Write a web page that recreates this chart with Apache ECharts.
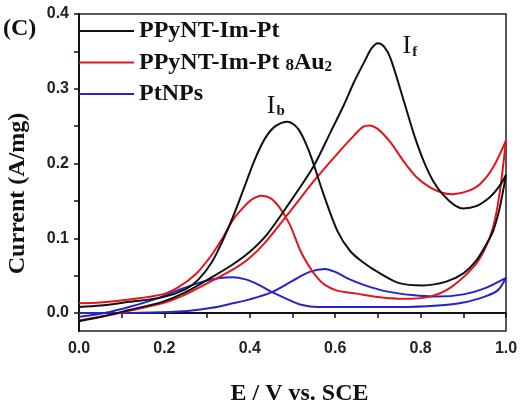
<!DOCTYPE html>
<html>
<head>
<meta charset="utf-8">
<script src="https://cdn.jsdelivr.net/npm/echarts@6/dist/echarts.min.js"></script>
<style>
  html, body { margin: 0; padding: 0; background: #fff; }
  #chart { width: 526px; height: 410px; }
</style>
</head>
<body>
<div id="chart"></div>
<script>
// cyclic voltammograms, [E (V vs SCE), current (A/mg)], forward scan then backward scan
const ptData = [
  [0, -0.011], [0.06, -0.004], [0.117, 0.004], [0.195, 0.015], [0.25, 0.028], [0.311, 0.048],
  [0.36, 0.065], [0.4, 0.082], [0.44, 0.105], [0.49, 0.145], [0.548, 0.195], [0.59, 0.243],
  [0.62, 0.278], [0.645, 0.31], [0.67, 0.338], [0.685, 0.354], [0.7, 0.361], [0.715, 0.356],
  [0.73, 0.34], [0.76, 0.285], [0.785, 0.238], [0.806, 0.205], [0.83, 0.176], [0.853, 0.158],
  [0.88, 0.144], [0.9, 0.14], [0.93, 0.143], [0.962, 0.155], [0.985, 0.17], [1.0, 0.185],
  [0.985, 0.14], [0.97, 0.11], [0.955, 0.093], [0.93, 0.07], [0.9, 0.053], [0.86, 0.042],
  [0.806, 0.037], [0.75, 0.04], [0.705, 0.053], [0.665, 0.068], [0.635, 0.083], [0.605, 0.11],
  [0.572, 0.16], [0.541, 0.213], [0.515, 0.245], [0.489, 0.256], [0.46, 0.25], [0.435, 0.233],
  [0.41, 0.203], [0.385, 0.165], [0.36, 0.128], [0.335, 0.095], [0.311, 0.068], [0.28, 0.045],
  [0.25, 0.032], [0.195, 0.021], [0.117, 0.015], [0.05, 0.01], [0, 0.008]
];
const ptAuData = [
  [0, -0.01], [0.06, -0.004], [0.117, 0.003], [0.195, 0.013], [0.25, 0.025], [0.311, 0.043],
  [0.36, 0.058], [0.398, 0.073], [0.44, 0.097], [0.5, 0.14], [0.555, 0.18], [0.611, 0.217],
  [0.645, 0.238], [0.665, 0.249], [0.68, 0.251], [0.7, 0.246], [0.73, 0.228], [0.759, 0.204],
  [0.79, 0.182], [0.822, 0.168], [0.85, 0.161], [0.876, 0.159], [0.91, 0.163], [0.94, 0.173],
  [0.97, 0.195], [1.0, 0.231],
  [0.985, 0.16], [0.97, 0.115], [0.95, 0.085], [0.923, 0.061], [0.87, 0.034], [0.822, 0.022],
  [0.76, 0.019], [0.705, 0.021], [0.65, 0.026], [0.604, 0.03], [0.575, 0.038], [0.557, 0.048],
  [0.535, 0.066], [0.518, 0.084], [0.494, 0.118], [0.471, 0.14], [0.45, 0.153], [0.428, 0.157],
  [0.405, 0.152], [0.383, 0.14], [0.361, 0.125], [0.337, 0.101], [0.311, 0.078], [0.275, 0.053],
  [0.234, 0.035], [0.195, 0.025], [0.117, 0.018], [0.05, 0.014], [0, 0.013]
];
const ptNpData = [
  [0, 0.0], [0.1, 0.0], [0.195, 0.001], [0.26, 0.003], [0.311, 0.007], [0.36, 0.013],
  [0.398, 0.018], [0.452, 0.028], [0.5, 0.043], [0.54, 0.055], [0.576, 0.059], [0.6, 0.055],
  [0.63, 0.046], [0.67, 0.037], [0.72, 0.029], [0.78, 0.024], [0.84, 0.022], [0.9, 0.025],
  [0.95, 0.033], [1.0, 0.047],
  [0.98, 0.03], [0.95, 0.022], [0.9, 0.014], [0.84, 0.01], [0.75, 0.008], [0.65, 0.008],
  [0.56, 0.008], [0.52, 0.011], [0.49, 0.018], [0.452, 0.028], [0.42, 0.038], [0.39, 0.045],
  [0.36, 0.048], [0.33, 0.047], [0.29, 0.042], [0.234, 0.031], [0.18, 0.019], [0.117, 0.008],
  [0.06, 0.0], [0, -0.005]
];
const seriesNames = ["PPyNT-Im-Pt", "PPyNT-Im-Pt 8Au2", "PtNPs"];
const seriesColors = ["#111111", "#e3141c", "#2424c8"];
const yLabelValues = [0, 0.1, 0.2, 0.3, 0.4];
const yTickValues = [0, 0.05, 0.1, 0.15, 0.2, 0.25, 0.3, 0.35, 0.4];
// peak labels: I_f on the forward peak, I_b on the backward peak
const peakMarks = [
  { name: "f", coord: [0.775, 0.357] },
  { name: "b", coord: [0.461, 0.277] }
];

const SERIF = "'Liberation Serif', 'Times New Roman', serif";
const SANS = "'Liberation Sans', Arial, sans-serif";

const chart = echarts.init(document.getElementById("chart"));

const lineSeries = [ptData, ptAuData, ptNpData].map((data, i) => ({
  name: seriesNames[i],
  type: "line",
  data: data,
  smooth: 0.3,
  symbol: "none",
  lineStyle: { width: 2, color: seriesColors[i] },
  itemStyle: { color: seriesColors[i] },
  z: 3 - i
}));

lineSeries[0].markPoint = {
  symbol: "circle",
  symbolSize: 1,
  itemStyle: { color: "transparent" },
  label: {
    show: true,
    position: "inside",
    formatter: (p) => "{I|I}{s|" + p.name + "}",
    rich: {
      I: { fontFamily: SERIF, fontSize: 26, color: "#111", verticalAlign: "bottom" },
      s: { fontFamily: SERIF, fontSize: 15, fontWeight: "bold", color: "#111", verticalAlign: "bottom", padding: [0, 0, 0, 1] }
    }
  },
  data: peakMarks
};

chart.setOption({
  animation: false,
  backgroundColor: "#fff",
  grid: {
    left: 79,
    right: 20,
    top: 14,
    bottom: 79,
    outerBoundsMode: "none",
    show: true,
    borderColor: "#222",
    borderWidth: 1.5
  },
  graphic: [
    {
      type: "text",
      left: 3,
      top: 17,
      style: { text: "(C)", font: "bold 24px " + SERIF, fill: "#111" }
    }
  ],
  legend: {
    orient: "vertical",
    left: 79,
    top: 19,
    padding: 0,
    icon: "rect",
    itemWidth: 55,
    itemHeight: 2,
    itemGap: 7.5,
    data: seriesNames,
    formatter: (name) => name === "PPyNT-Im-Pt 8Au2" ? "PPyNT-Im-Pt {s8|8}Au{s2|2}" : name,
    textStyle: {
      fontFamily: SERIF,
      fontSize: 24,
      fontWeight: "bold",
      color: "#111",
      lineHeight: 24,
      rich: {
        s8: { fontFamily: SERIF, fontSize: 17, fontWeight: "bold", color: "#111", lineHeight: 24, verticalAlign: "bottom" },
        s2: { fontFamily: SERIF, fontSize: 15, fontWeight: "bold", color: "#111", lineHeight: 24, verticalAlign: "bottom" }
      }
    }
  },
  xAxis: {
    type: "value",
    min: 0,
    max: 1,
    interval: 0.2,
    name: "E / V vs. SCE",
    nameLocation: "middle",
    nameGap: 51,
    nameTextStyle: { fontFamily: SERIF, fontSize: 24, fontWeight: "bold", color: "#111", padding: [0, 0, 0, 14] },
    axisLine: { lineStyle: { color: "#111", width: 2 } },
    axisTick: { length: 5, lineStyle: { color: "#111", width: 1.5 } },
    minorTick: { show: true, splitNumber: 2, length: 5, lineStyle: { color: "#111", width: 1.5 } },
    axisLabel: { fontFamily: SANS, fontSize: 16, fontWeight: "bold", color: "#222", margin: 10, formatter: (v) => v.toFixed(1) },
    splitLine: { show: false }
  },
  yAxis: {
    type: "value",
    min: -0.024,
    max: 0.4,
    name: "Current (A/mg)",
    nameLocation: "middle",
    nameGap: 49,
    nameTextStyle: { fontFamily: SERIF, fontSize: 24, fontWeight: "bold", color: "#111", padding: [0, 42, 0, 0] },
    axisLine: { show: true, lineStyle: { color: "#111", width: 2 } },
    axisTick: { show: true, length: 5, customValues: yTickValues, lineStyle: { color: "#111", width: 1.5 } },
    axisLabel: { fontFamily: SANS, fontSize: 16, fontWeight: "bold", color: "#222", margin: 10, customValues: yLabelValues, formatter: (v) => v.toFixed(1) },
    splitLine: { show: false }
  },
  series: lineSeries
});
</script>
</body>
</html>
